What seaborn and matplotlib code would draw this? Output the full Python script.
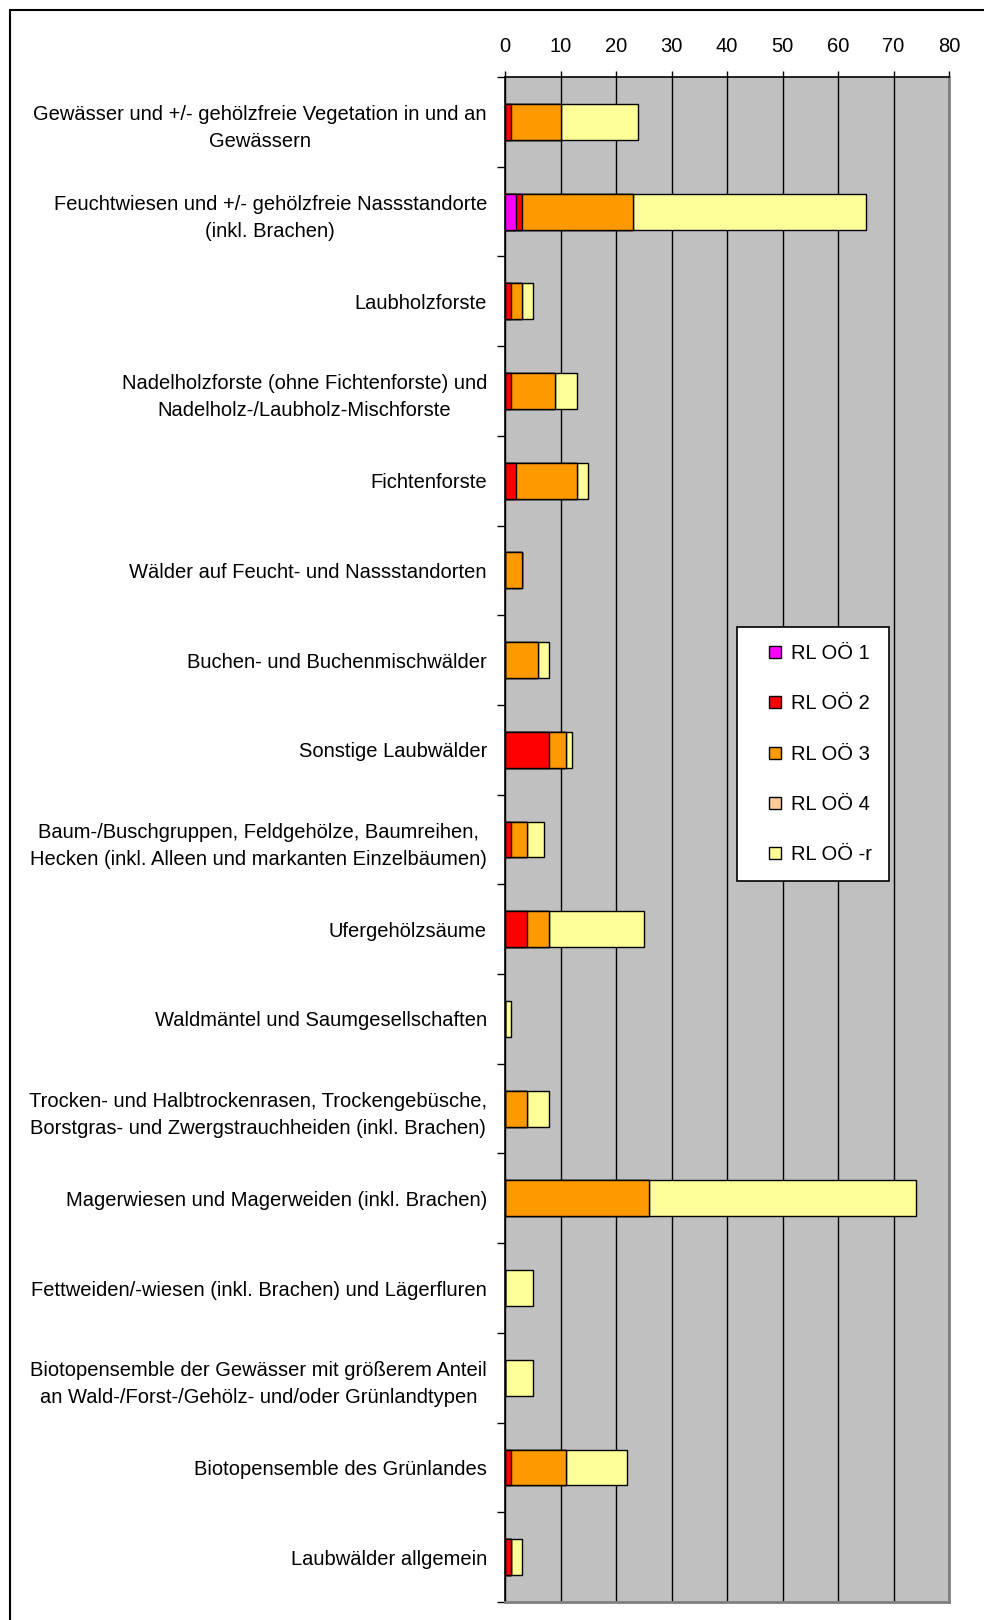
import numpy as np
import pandas as pd
import matplotlib
matplotlib.use("Agg")
import matplotlib.pyplot as plt
from matplotlib.lines import Line2D
from matplotlib.patches import Rectangle
from matplotlib.ticker import FixedLocator
import seaborn as sns

categories = [
    "Gewässer und +/- gehölzfreie Vegetation in und an\nGewässern",
    "Feuchtwiesen und +/- gehölzfreie Nassstandorte\n(inkl. Brachen)",
    "Laubholzforste",
    "Nadelholzforste (ohne Fichtenforste) und\nNadelholz-/Laubholz-Mischforste",
    "Fichtenforste",
    "Wälder auf Feucht- und Nassstandorten",
    "Buchen- und Buchenmischwälder",
    "Sonstige Laubwälder",
    "Baum-/Buschgruppen, Feldgehölze, Baumreihen,\nHecken (inkl. Alleen und markanten Einzelbäumen)",
    "Ufergehölzsäume",
    "Waldmäntel und Saumgesellschaften",
    "Trocken- und Halbtrockenrasen, Trockengebüsche,\nBorstgras- und Zwergstrauchheiden (inkl. Brachen)",
    "Magerwiesen und Magerweiden (inkl. Brachen)",
    "Fettweiden/-wiesen (inkl. Brachen) und Lägerfluren",
    "Biotopensemble der Gewässer mit größerem Anteil\nan Wald-/Forst-/Gehölz- und/oder Grünlandtypen",
    "Biotopensemble des Grünlandes",
    "Laubwälder allgemein",
]

rl1 = [0, 2, 0, 0, 0, 0, 0, 0, 0, 0, 0, 0, 0, 0, 0, 0, 0]
rl2 = [1, 1, 1, 1, 2, 0, 0, 8, 1, 4, 0, 0, 0, 0, 0, 1, 1]
rl3 = [9, 20, 2, 8, 11, 3, 6, 3, 3, 4, 0, 4, 26, 0, 0, 10, 0]
rl4 = [0] * 17
rlr = [14, 42, 2, 4, 2, 0, 2, 1, 3, 17, 1, 4, 48, 5, 5, 11, 2]

series = ["RL OÖ 1", "RL OÖ 2", "RL OÖ 3", "RL OÖ 4", "RL OÖ -r"]
colors = ["#FF00FF", "#FF0000", "#FF9900", "#FFCC99", "#FFFF99"]
x_ticks = [0, 10, 20, 30, 40, 50, 60, 70, 80]

df = pd.DataFrame({"cat": categories, series[0]: rl1, series[1]: rl2,
                   series[2]: rl3, series[3]: rl4, series[4]: rlr})
cum = df[series].cumsum(axis=1)

sns.set_style("white")
plt.rcParams["font.family"] = ["Liberation Sans", "DejaVu Sans"]
plt.rcParams["text.color"] = "black"
plt.rcParams["xtick.color"] = "black"
plt.rcParams["ytick.color"] = "black"
fs = 14.5

fig = plt.figure(figsize=(9.84, 16.2), dpi=100)
ax = fig.add_axes([505 / 984, 1 - 1602 / 1620, 444 / 984, 1525 / 1620])
ax.set_facecolor("#C0C0C0")

# stacked look: draw cumulative totals from the outermost segment inwards
for s, c in reversed(list(zip(series, colors))):
    sns.barplot(x=cum[s], y=df["cat"], color=c, orient="h", width=0.4,
                saturation=1, edgecolor="black", linewidth=1.0, ax=ax)

ax.set_xlim(0, 80)
ax.set_ylim(16.5, -0.5)
ax.set_xlabel("")
ax.set_ylabel("")
ax.xaxis.set_major_locator(FixedLocator(x_ticks))
ax.xaxis.tick_top()
ax.tick_params(axis="x", which="major", top=True, bottom=False, direction="out",
               length=4, width=1, color="black", labelsize=fs, labelcolor="black",
               pad=11)
ax.grid(axis="x", color="black", linewidth=1)
ax.grid(axis="y", visible=False)
ax.set_axisbelow(True)

ax.yaxis.set_minor_locator(FixedLocator(np.arange(-0.5, 17, 1)))
ax.tick_params(axis="y", which="major", length=0, labelsize=fs,
               labelcolor="black", pad=13)
ax.tick_params(axis="y", which="minor", left=True, direction="out", length=6,
               width=1, color="black")
for t in ax.get_yticklabels():
    t.set_multialignment("center")
    t.set_linespacing(1.55)

for side in ["top", "left"]:
    ax.spines[side].set_color("black")
    ax.spines[side].set_linewidth(1.2)
for side in ["right", "bottom"]:
    ax.spines[side].set_color("#808080")
    ax.spines[side].set_linewidth(2)

handles = [Line2D([], [], linestyle="none", marker="s", markersize=8,
                  markerfacecolor=c, markeredgecolor="black", markeredgewidth=1)
           for c in colors]
leg = fig.legend([*handles, Line2D([], [], linestyle="none")][:5], series,
                 loc="upper left",
                 bbox_to_anchor=(737 / 984, 1 - 627 / 1620), fontsize=fs,
                 frameon=True, fancybox=False, framealpha=1, edgecolor="black",
                 borderpad=0.85, borderaxespad=0, labelspacing=1.55,
                 handlelength=2.1, handletextpad=-0.25)
leg.get_frame().set_linewidth(1.2)

fig.patches.append(Rectangle((10 / 984, -0.1), 1.1, 1.1 - 10 / 1620,
                             transform=fig.transFigure, fill=False,
                             edgecolor="black", linewidth=1.5))

fig.savefig("out.png", dpi=100)
